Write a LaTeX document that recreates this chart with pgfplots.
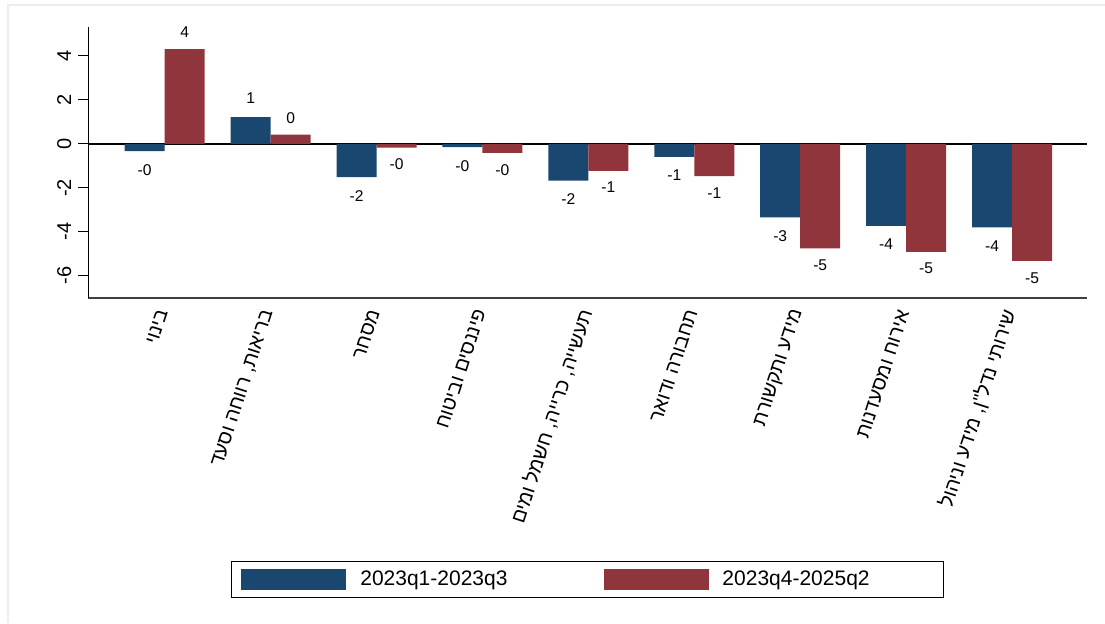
\documentclass[border=0pt]{standalone}
\usepackage{fontspec}
\setmainfont{Liberation Sans}
\newfontfamily\hebfont[Script=Hebrew]{Liberation Sans}
\TeXXeTstate=1
\usepackage{pgfplots}
\usepackage{pgfplotstable}
\pgfplotsset{compat=1.18}
\definecolor{navy}{RGB}{26,71,111}
\definecolor{maroon}{RGB}{144,53,59}
\definecolor{frame}{RGB}{232,238,244}
\definecolor{xline}{RGB}{64,64,64}

\pgfplotstableread{
x y lab
1 -0.33 -0
2 1.21 1
3 -1.52 -2
4 -0.15 -0
5 -1.67 -2
6 -0.59 -1
7 -3.35 -3
8 -3.73 -4
9 -3.80 -4
}\bluedata

\pgfplotstableread{
x y lab
1 4.31 4
2 0.42 0
3 -0.17 -0
4 -0.41 -0
5 -1.23 -1
6 -1.47 -1
7 -4.76 -5
8 -4.91 -5
9 -5.33 -5
}\reddata

\begin{document}
\begin{tikzpicture}
\useasboundingbox (0,0) rectangle (552.5pt,311.5pt);
\draw[frame, line width=1pt] (3.75pt,0) -- (3.75pt,309pt) -- (552.5pt,309pt);
\begin{axis}[
  at={(44.15pt,162.65pt)}, anchor=south west,
  scale only axis, width=499.2pt, height=135.2pt,
  xmin=0.279, xmax=9.705, ymin=-7, ymax=5.3,
  ybar=0pt, bar width=20pt,
  axis x line*=bottom, axis y line*=left,
  x axis line style={-, draw=xline, line width=1pt},
  y axis line style={-, draw=black, line width=0.6pt},
  tick align=outside, major tick length=5pt,
  xtick={1,...,9},
  xtick style={draw=none},
  xticklabels={
    {\hebfont\beginR בינוי\endR},
    {\hebfont\beginR בריאות, רווחה וסעד\endR},
    {\hebfont\beginR מסחר\endR},
    {\hebfont\beginR פיננסים וביטוח\endR},
    {\hebfont\beginR תעשייה, כרייה, חשמל ומים\endR},
    {\hebfont\beginR תחבורה ודואר\endR},
    {\hebfont\beginR מידע ותקשורת\endR},
    {\hebfont\beginR אירוח ומסעדנות\endR},
    {\hebfont\beginR שירותי נדל"ן, מידע וניהול\endR}
  },
  xticklabel shift=-2pt,
  xticklabel style={rotate=72, anchor=east, font=\fontsize{10}{12}\selectfont},
  ytick={-6,-4,-2,0,2,4},
  yticklabels={-6,-4,-2,0,2,4},
  ytick style={draw=black, line width=0.6pt},
  yticklabel style={rotate=90, anchor=south, font=\fontsize{10}{12}\selectfont},
  extra y ticks={0},
  extra y tick labels={},
  extra y tick style={grid=major, major grid style={black, line width=0.9pt}},
  nodes near coords,
  point meta=explicit symbolic,
  visualization depends on={y \as \rawy},
  every node near coord/.append style={font=\fontsize{7.8}{9}\selectfont, text=black,
    /utils/exec={\pgfmathparse{\rawy<0}\ifdim\pgfmathresult pt>0.5pt\def\myanchor{north}\else\def\myanchor{south}\fi},
    anchor=\myanchor},
  legend style={at={(0.5,-1.042)}, anchor=center, draw=black, line width=0.6pt,
    font=\fontsize{10.5}{12}\selectfont, legend columns=2,
    inner xsep=5pt, inner ysep=2.5pt,
    /tikz/every odd column/.append style={column sep=5pt},
    /tikz/every even column/.append style={column sep=46pt}},
  legend cell align=left,
  legend image code/.code={\fill[#1] (0pt,-5.25pt) rectangle (52.5pt,5.25pt);},
]
\addplot[fill=navy, draw=none, every node near coord/.append style={inner ysep=6.5pt}]
  table[x=x, y=y, meta=lab] {\bluedata};
\addlegendentry{2023q1-2023q3}
\addplot[fill=maroon, draw=none, every node near coord/.append style={inner ysep=5.5pt}]
  table[x=x, y=y, meta=lab] {\reddata};
\addlegendentry{2023q4-2025q2\hspace*{30pt}}
\end{axis}
\end{tikzpicture}
\end{document}
